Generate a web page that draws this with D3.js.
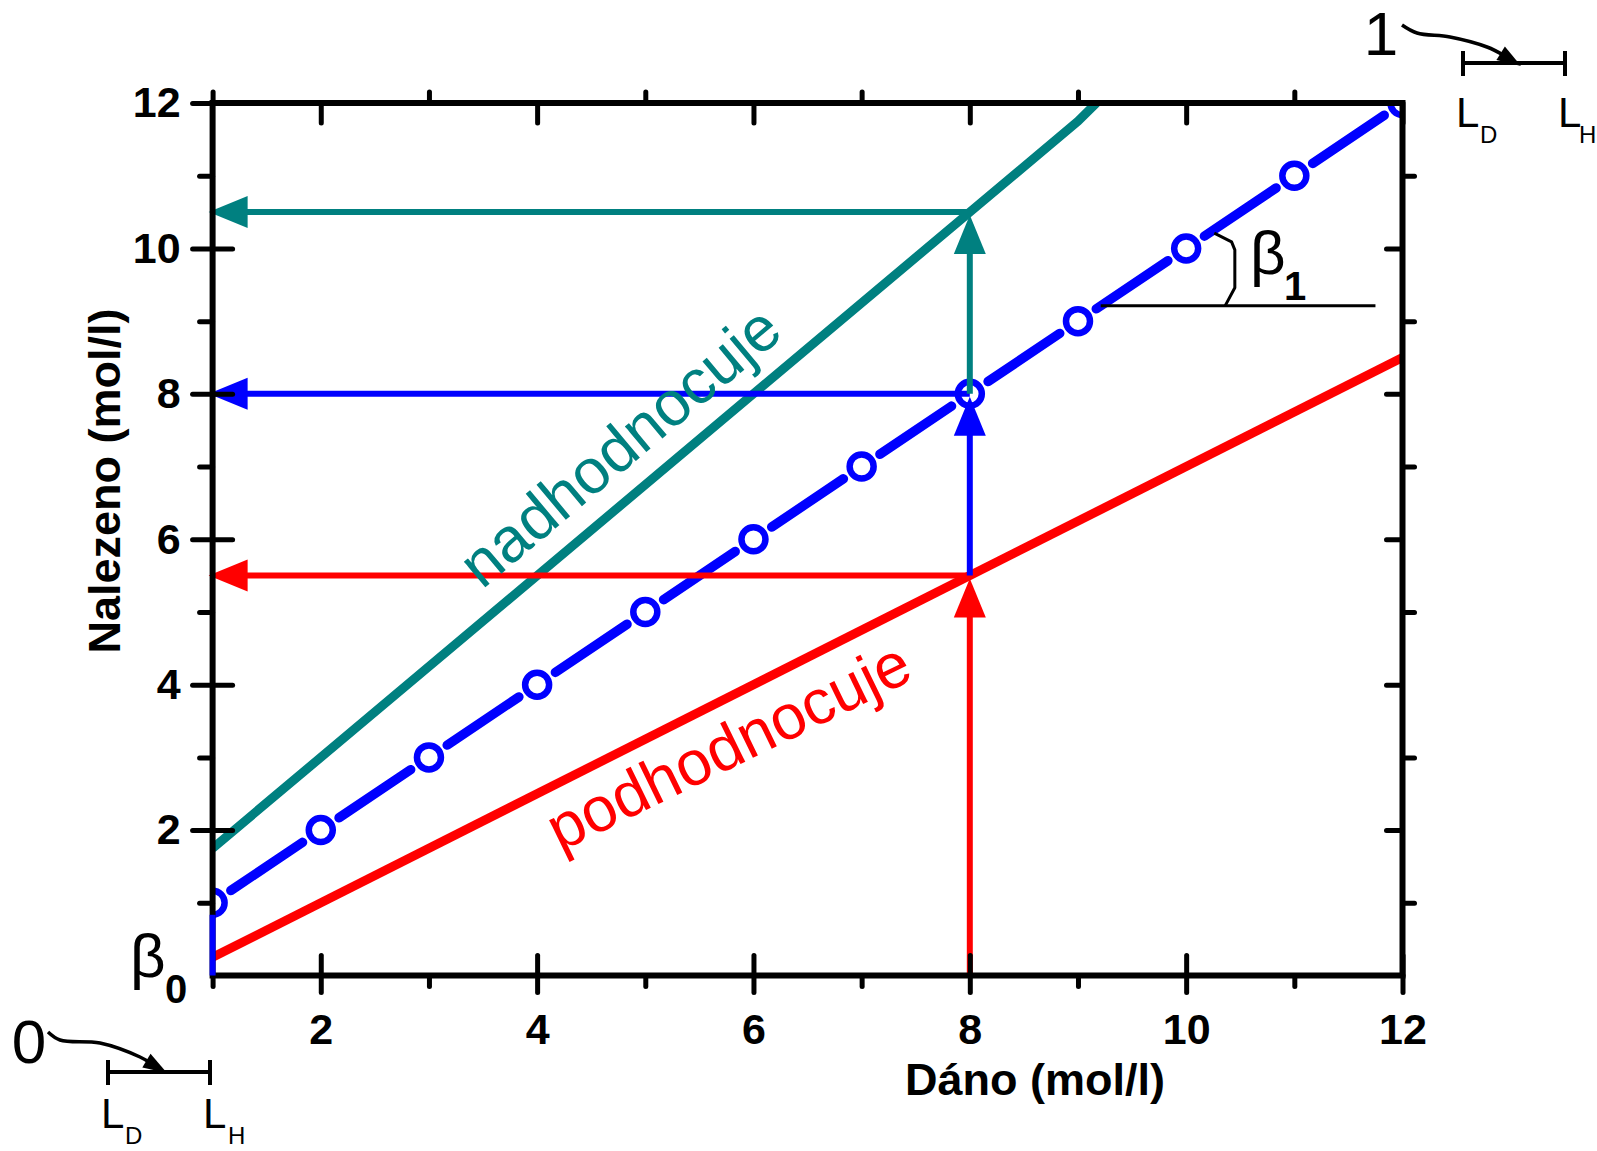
<!DOCTYPE html>
<html>
<head>
<meta charset="utf-8">
<script src="https://cdn.jsdelivr.net/npm/d3@7"></script>
<style>
  html, body { margin: 0; padding: 0; background: #fff; }
  svg { display: block; }
  text { font-family: "Liberation Sans", Arial, sans-serif; }
</style>
</head>
<body>
<svg id="chart" width="1597" height="1151"></svg>
<script>
// ---- data ----
const xTicks = [2, 4, 6, 8, 10, 12];
const xMinor = [1, 3, 5, 7, 9, 11];
const yTicks = [2, 4, 6, 8, 10, 12];
const yMinor = [1, 3, 5, 7, 9, 11];

const given = [1, 2, 3, 4, 5, 6, 7, 8, 9, 10, 11, 12];      // Dáno
const found = [1, 2, 3, 4, 5, 6, 7, 8, 9, 10, 11, 12];      // Nalezeno (ideal)

const overX = [1, 9.0, 9.17];        // nadhodnocuje line
const overY = [1.75, 11.75, 12];
const underX = [1, 12];              // podhodnocuje line
const underY = [0.25, 8.5];

const readX = 8;
const arrowFrom = [0, 5.5, 8];
const arrowTo = [5.5, 8, 10.5];
const arrowColors = ["#ff0000", "#0000ff", "#008080"];

const interceptSeg = [0, 1];                  // beta0 at x = 1
const slopeRef = [9.21, 11.75];               // horizontal reference for beta1
const slopeRefY = 9.21;
const bracketX = [10.26, 10.42, 10.45, 10.45, 10.36];
const bracketY = [10.21, 10.09, 9.98, 9.46, 9.21];

// ---- layout ----
const svg = d3.select("#chart");
const x = d3.scaleLinear().domain([1, 12]).range([212.6, 1402.5]);
const y = d3.scaleLinear().domain([0, 12]).range([975.5, 103]);

const BLUE = "#0000ff", RED = "#ff0000", TEAL = "#008080";

svg.append("defs").append("clipPath").attr("id", "plotclip")
  .append("rect")
  .attr("x", x(1)).attr("y", y(12))
  .attr("width", x(12) - x(1)).attr("height", y(0) - y(12));

const plot = svg.append("g").attr("clip-path", "url(#plotclip)");

plot.append("path")
  .datum(overX.map((v, i) => [v, overY[i]]))
  .attr("d", d3.line().x(d => x(d[0])).y(d => y(d[1])))
  .attr("fill", "none").attr("stroke", TEAL).attr("stroke-width", 9);

plot.append("path")
  .datum(underX.map((v, i) => [v, underY[i]]))
  .attr("d", d3.line().x(d => x(d[0])).y(d => y(d[1])))
  .attr("fill", "none").attr("stroke", RED).attr("stroke-width", 9);

// blue segments with gaps
const pts = given.map((g, i) => [x(g), y(found[i])]);
const gap = 22;
const segs = [];
for (let i = 0; i < pts.length - 1; i++) {
  const [x0, y0] = pts[i], [x1, y1] = pts[i + 1];
  const L = Math.hypot(x1 - x0, y1 - y0);
  const ux = (x1 - x0) / L, uy = (y1 - y0) / L;
  segs.push([x0 + ux * gap, y0 + uy * gap, x1 - ux * gap, y1 - uy * gap]);
}
plot.selectAll("line.seg").data(segs).enter().append("line")
  .attr("class", "seg")
  .attr("x1", d => d[0]).attr("y1", d => d[1])
  .attr("x2", d => d[2]).attr("y2", d => d[3])
  .attr("stroke", BLUE).attr("stroke-width", 9.5).attr("stroke-linecap", "round");

plot.selectAll("circle.pt").data(given).enter().append("circle")
  .attr("class", "pt")
  .attr("cx", d => x(d)).attr("cy", (d, i) => y(found[i]))
  .attr("r", 12)
  .attr("fill", "#fff").attr("stroke", BLUE).attr("stroke-width", 6.5);

// arrows
function arrowHead(g, tipX, tipY, dir, color) {
  const len = 39, hw = 16;
  let p;
  if (dir === "up") p = [[tipX, tipY], [tipX - hw, tipY + len], [tipX + hw, tipY + len]];
  else p = [[tipX, tipY], [tipX + len, tipY - hw], [tipX + len, tipY + hw]];
  g.append("path").attr("d", "M" + p.map(q => q.join(",")).join("L") + "Z").attr("fill", color);
}
const arrows = svg.append("g");
arrowFrom.forEach((f, i) => {
  const c = arrowColors[i];
  arrows.append("line")
    .attr("x1", x(readX)).attr("x2", x(readX))
    .attr("y1", y(f)).attr("y2", y(arrowTo[i]) + 20)
    .attr("stroke", c).attr("stroke-width", 6);
  arrowHead(arrows, x(readX), y(arrowTo[i]) + 3, "up", c);
  arrows.append("line")
    .attr("x1", x(readX)).attr("x2", x(1) + 20)
    .attr("y1", y(arrowTo[i])).attr("y2", y(arrowTo[i]))
    .attr("stroke", c).attr("stroke-width", 6);
  arrowHead(arrows, x(1) - 4, y(arrowTo[i]), "left", c);
});

// ---- axes ----
const axesG = svg.append("g");
function styleAxis(g) {
  g.select(".domain").remove();
  g.selectAll(".tick line").attr("stroke", "#000").attr("stroke-width", 5).attr("stroke-linecap", "round");
  g.selectAll(".tick text").attr("fill", "#000")
    .style("font-family", "'Liberation Sans', Arial, sans-serif")
    .style("font-weight", "bold").style("font-size", "43px");
}
axesG.append("g").attr("transform", `translate(0,${y(0)})`)
  .call(d3.axisBottom(x).tickValues(xTicks).tickSize(17).tickPadding(21).tickFormat(d3.format("d"))).call(styleAxis);
axesG.append("g").attr("transform", `translate(0,${y(0)})`)
  .call(d3.axisBottom(x).tickValues(xTicks).tickSize(-20).tickFormat("")).call(styleAxis);
axesG.append("g").attr("transform", `translate(0,${y(0)})`)
  .call(d3.axisBottom(x).tickValues(xMinor).tickSize(11).tickFormat("")).call(styleAxis);
axesG.append("g").attr("transform", `translate(${x(1)},0)`)
  .call(d3.axisLeft(y).tickValues(yTicks).tickSize(20).tickPadding(12).tickFormat(d3.format("d"))).call(styleAxis);
axesG.append("g").attr("transform", `translate(${x(1)},0)`)
  .call(d3.axisLeft(y).tickValues(yTicks).tickSize(-20).tickFormat("")).call(styleAxis);
axesG.append("g").attr("transform", `translate(${x(1)},0)`)
  .call(d3.axisLeft(y).tickValues(yMinor).tickSize(13).tickFormat("")).call(styleAxis);
axesG.append("g").attr("transform", `translate(0,${y(12)})`)
  .call(d3.axisTop(x).tickValues(xTicks).tickSize(-20).tickFormat("")).call(styleAxis);
axesG.append("g").attr("transform", `translate(0,${y(12)})`)
  .call(d3.axisTop(x).tickValues(xMinor).tickSize(11).tickFormat("")).call(styleAxis);
axesG.append("g").attr("transform", `translate(${x(12)},0)`)
  .call(d3.axisRight(y).tickValues(yTicks).tickSize(-16).tickFormat("")).call(styleAxis);
axesG.append("g").attr("transform", `translate(${x(12)},0)`)
  .call(d3.axisRight(y).tickValues(yMinor).tickSize(12).tickFormat("")).call(styleAxis);
axesG.append("rect")
  .attr("x", x(1)).attr("y", y(12))
  .attr("width", x(12) - x(1)).attr("height", y(0) - y(12))
  .attr("fill", "none").attr("stroke", "#000").attr("stroke-width", 6);

// beta0 intercept segment at x = 1
svg.append("line")
  .attr("x1", x(1)).attr("x2", x(1))
  .attr("y1", y(interceptSeg[0])).attr("y2", y(interceptSeg[1]) + 12)
  .attr("stroke", BLUE).attr("stroke-width", 6);

// beta1 reference line and bracket
svg.append("line")
  .attr("x1", x(slopeRef[0])).attr("x2", x(slopeRef[1]))
  .attr("y1", y(slopeRefY)).attr("y2", y(slopeRefY))
  .attr("stroke", "#000").attr("stroke-width", 3);
svg.append("path")
  .datum(bracketX.map((v, i) => [v, bracketY[i]]))
  .attr("d", d3.line().x(d => x(d[0])).y(d => y(d[1])))
  .attr("fill", "none").attr("stroke", "#000").attr("stroke-width", 3)
  .attr("stroke-linejoin", "round");

// ---- texts ----
svg.append("text").attr("x", 1035).attr("y", 1095).attr("text-anchor", "middle")
  .style("font-weight", "bold").style("font-size", "45px").text("Dáno (mol/l)");
svg.append("text").attr("transform", "translate(120,481) rotate(-90)").attr("text-anchor", "middle")
  .style("font-weight", "bold").style("font-size", "45px").text("Nalezeno (mol/l)");

svg.append("text").attr("transform", "translate(482,590) rotate(-40)")
  .attr("fill", TEAL).style("font-size", "63px").text("nadhodnocuje");
svg.append("text").attr("transform", "translate(560,852) rotate(-26)")
  .attr("fill", RED).style("font-size", "63px").text("podhodnocuje");

svg.append("text").attr("x", 130).attr("y", 977).style("font-size", "62px").text("β");
svg.append("text").attr("x", 165).attr("y", 1003).style("font-size", "40px").style("font-weight", "bold").text("0");
svg.append("text").attr("x", 1250).attr("y", 274).style("font-size", "62px").text("β");
svg.append("text").attr("x", 1284).attr("y", 300).style("font-size", "40px").style("font-weight", "bold").text("1");

// ---- 0 / 1 annotations ----
function limitNote(num, numX, numY, curvePts, tip, segY, segX0, segX1, labY, hX) {
  const g = svg.append("g");
  g.append("text").attr("x", numX).attr("y", numY).attr("text-anchor", "middle")
    .style("font-size", "62px").text(num);
  g.append("path").datum(curvePts)
    .attr("d", d3.line().curve(d3.curveCatmullRom))
    .attr("fill", "none").attr("stroke", "#000").attr("stroke-width", 3.5);
  const last = curvePts[curvePts.length - 1];
  const ang = Math.atan2(tip[1] - last[1], tip[0] - last[0]);
  const len = 24, hw = 8;
  const bx = tip[0] - len * Math.cos(ang), by = tip[1] - len * Math.sin(ang);
  const px = -Math.sin(ang) * hw, py = Math.cos(ang) * hw;
  g.append("path").attr("d", `M${tip[0]},${tip[1]}L${bx + px},${by + py}L${bx - px},${by - py}Z`).attr("fill", "#000");
  g.append("line").attr("x1", segX0).attr("x2", segX1).attr("y1", segY).attr("y2", segY)
    .attr("stroke", "#000").attr("stroke-width", 4);
  [segX0, segX1].forEach(sx => g.append("line").attr("x1", sx).attr("x2", sx)
    .attr("y1", segY - 12).attr("y2", segY + 13).attr("stroke", "#000").attr("stroke-width", 4));
  g.append("text").attr("x", segX0 - 7).attr("y", labY).style("font-size", "42px").text("L");
  g.append("text").attr("x", segX0 + 17).attr("y", labY + 16).style("font-size", "24px").text("D");
  g.append("text").attr("x", segX1 - 7).attr("y", labY).style("font-size", "42px").text("L");
  g.append("text").attr("x", hX).attr("y", labY + 16).style("font-size", "24px").text("H");
}
limitNote("1", 1381, 55, [[1402, 25], [1417, 33], [1450, 37], [1487, 47], [1505, 56]], [1521, 66], 63, 1463, 1565, 127, 1579);
limitNote("0", 29, 1063, [[48, 1032], [60, 1040], [100, 1043], [140, 1057], [152, 1064]], [167, 1073], 1072, 108, 210, 1128, 228);
</script>
</body>
</html>
